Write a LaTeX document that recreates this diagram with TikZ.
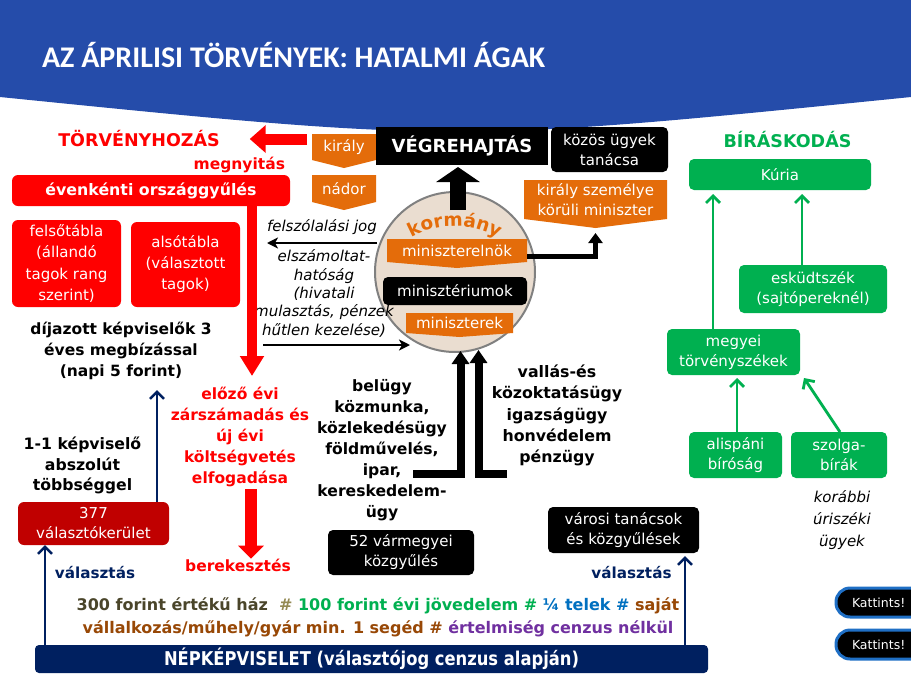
\documentclass[tikz,border=0pt]{standalone}
\usepackage{fontspec}
\setmainfont{DejaVu Sans}
\newfontfamily\condf{DejaVu Sans}[FakeStretch=0.86]
\newfontfamily\titlef{Carlito}
\usetikzlibrary{arrows.meta,decorations.text}
\pgfdeclarelayer{bg}
\pgfdeclarelayer{base}
\pgfsetlayers{base,bg,main}
\newcommand\fsz[2]{\fontsize{#1}{#2}\selectfont}
\newcommand\tagfill[2]{\fill[orng] (#1.north west) -- (#1.north east) -- (#1.south east) -- ([yshift=-#2pt]#1.south) -- (#1.south west) -- cycle;}
\definecolor{hblue}{RGB}{37,76,170}
\definecolor{tred}{RGB}{255,0,0}
\definecolor{tdred}{RGB}{192,0,0}
\definecolor{orng}{RGB}{228,108,10}
\definecolor{tgreen}{RGB}{0,176,80}
\definecolor{tnavy}{RGB}{0,32,96}
\definecolor{tbeige}{RGB}{234,221,208}
\definecolor{tgray}{RGB}{128,128,128}
\definecolor{tbtn}{RGB}{31,111,197}
\definecolor{cA}{RGB}{74,69,42}
\definecolor{cB}{RGB}{148,138,84}
\definecolor{cblue}{RGB}{0,112,192}
\definecolor{cbrown}{RGB}{152,72,6}
\definecolor{cpurp}{RGB}{112,48,160}
\begin{document}
\begin{tikzpicture}[x=1pt,y=-1pt,
  every node/.style={inner sep=0pt,outer sep=0pt,align=center,font=\fsz{15}{20}},
  rbox/.style={fill=tred,rounded corners=6pt,text=white},
  gbox/.style={fill=tgreen,rounded corners=5pt,text=white},
  kbox/.style={fill=black,rounded corners=5pt,text=white},
  btnbox/.style={fill=black,draw=tbtn,line width=3pt,rounded corners=14pt,text=white,anchor=west,inner xsep=16pt,font=\fsz{12.5}{14}},
  redbig/.style={tred,line width=11pt,-{Triangle[width=27pt,length=16pt]}},
  redvert/.style={tred,line width=9.5pt,-{Triangle[width=23pt,length=20pt]}},
  reddown/.style={tred,line width=12pt,-{Triangle[width=25pt,length=13pt]}},
  blkbig/.style={black,line width=16pt,-{Triangle[width=43pt,length=15pt]}},
  blkmed/.style={black,line width=5pt,-{Triangle[width=14pt,length=10pt]}},
  blkL/.style={black,line width=8pt,-{Triangle[width=17pt,length=13pt]}},
  blkthin/.style={black,line width=2.5pt,-{Stealth[length=11pt,width=11pt,inset=3pt]}},
  navyarr/.style={tnavy,line width=2.5pt,-{Straight Barb[length=7pt,width=14pt]}},
  grnarr/.style={tgreen,line width=2.8pt,-{Straight Barb[length=7pt,width=14pt]}}
]
\useasboundingbox (0,0) rectangle (911,683);
\clip (0,0) rectangle (911,683);
\begin{pgfonlayer}{base}
\fill[white] (0,0) rectangle (911,683);
\fill[hblue] (0,0) -- (911,0) -- (911,97) .. controls (455.5,143) .. (0,97) -- cycle;
\end{pgfonlayer}
\node[anchor=base west,text=white,font=\titlef\fsz{30}{30}\bfseries] (title) at (42,67) {AZ ÁPRILISI TÖRVÉNYEK: HATALMI ÁGAK};

% legislation
\node[font=\fsz{17.5}{20}\bfseries,text=tred] (tv) at (139,139) {TÖRVÉNYHOZÁS};
\node[font=\fsz{15.5}{20}\bfseries,text=tred,anchor=east] (megny) at (285,165) {megnyitás};
\node[rbox,minimum width=278,minimum height=31,font=\fsz{15.8}{20}\bfseries] (orszag) at (151,190.5) {évenkénti országgyűlés};
\node[rbox,minimum width=109,minimum height=87,font=\fsz{15}{21.3}] (felso) at (66.5,263.5) {felsőtábla\\(állandó\\tagok rang\\szerint)};
\node[rbox,minimum width=109,minimum height=85,font=\fsz{15}{21}] (also) at (185.5,264.5) {alsótábla\\(választott\\tagok)};
\node[font=\fsz{15.5}{21}\bfseries] (dij) at (121,351) {díjazott képviselők 3\\éves megbízással\\(napi 5 forint)};
\node[font=\fsz{15.7}{20.5}\bfseries] (egy) at (82.5,465.5) {1-1 képviselő\\abszolút\\többséggel};
\node[fill=tdred,rounded corners=6pt,text=white,minimum width=151,minimum height=43,font=\fsz{15}{20}] (ker) at (93.5,523.5) {377\\választókerület};
\node[font=\fsz{15.2}{20}\bfseries,text=tnavy] (val1) at (95,573) {választás};
\node[font=\fsz{15.5}{20.8}\bfseries,text=tred] (elozo) at (240,437) {előző évi\\zárszámadás és\\új évi\\költségvetés\\elfogadása};
\node[font=\fsz{15.5}{20}\bfseries,text=tred] (berek) at (238,565) {berekesztés};

% executive
\node[text=white,minimum width=64,minimum height=26] (kiraly) at (344,147) {király};
\node[text=white,minimum width=64,minimum height=27] (nador) at (344,188.5) {nádor};
\node[fill=black,text=white,minimum width=172,minimum height=38,font=\fsz{18}{20}\bfseries] (vegre) at (462,146) {VÉGREHAJTÁS};
\node[kbox,minimum width=117,minimum height=45] (kozos) at (609.5,149.5) {közös ügyek\\tanácsa};
\node[text=white,minimum width=143,minimum height=39] (kszem) at (595.5,199.5) {király személye\\körüli miniszter};
\node[text=white,minimum width=140,minimum height=23] (melnok) at (457,250.5) {miniszterelnök};
\node[kbox,minimum width=144,minimum height=28] (mium) at (455,291) {minisztériumok};
\node[text=white,minimum width=107,minimum height=20] (mek) at (459.5,323) {miniszterek};
\node[font=\fsz{15}{18.5}\itshape] (felsz) at (322,227) {felszólalási jog};
\node[font=\fsz{15}{18.3}\itshape] (elsz) at (324,293.5) {elszámoltat-\\hatóság\\(hivatali\\mulasztás, pénzek\\hűtlen kezelése)};
\node[font=\fsz{15.6}{21}\bfseries] (belugy) at (382,450) {belügy\\közmunka,\\közlekedésügy\\földművelés,\\ipar,\\kereskedelem-\\ügy};
\node[font=\fsz{15.8}{21.2}\bfseries] (vallas) at (557,415.5) {vallás-és\\közoktatásügy\\igazságügy\\honvédelem\\pénzügy};
\node[kbox,minimum width=146,minimum height=45] (varm) at (401,552.5) {52 vármegyei\\közgyűlés};
\node[kbox,minimum width=151,minimum height=46] (varos) at (623.5,530) {városi tanácsok\\és közgyűlések};
\node[font=\fsz{15.2}{20}\bfseries,text=tnavy] (val2) at (631.5,573) {választás};

% judiciary
\node[font=\fsz{17.5}{20}\bfseries,text=tgreen] (bir) at (787.5,140) {BÍRÁSKODÁS};
\node[gbox,minimum width=182,minimum height=31] (kuria) at (780,174.5) {Kúria};
\node[gbox,minimum width=148,minimum height=48] (esk) at (813,289) {esküdtszék\\(sajtópereknél)};
\node[gbox,minimum width=133,minimum height=46] (megy) at (733.5,352) {megyei\\törvényszékek};
\node[gbox,minimum width=93,minimum height=46] (alisp) at (735.5,455) {alispáni\\bíróság};
\node[gbox,minimum width=96,minimum height=46] (szolga) at (839,455) {szolga-\\bírák};
\node[font=\fsz{15}{22}\itshape] (kor) at (842,520) {korábbi\\úriszéki\\ügyek};

% bottom
\node[font=\fsz{16}{23}\bfseries] (cenz) at (378,617.5) {\textcolor{cA}{300 forint értékű ház}\ \ \textcolor{cB}{\#} \textcolor{tgreen}{100 forint évi jövedelem \#} \textcolor{cblue}{¼ telek \#} \textcolor{cbrown}{saját}\\\textcolor{cbrown}{vállalkozás/műhely/gyár min. 1 segéd \#} \textcolor{cpurp}{értelmiség cenzus nélkül}};
\node[fill=tnavy,rounded corners=4pt,text=white,minimum width=673,minimum height=28,font=\condf\fsz{19}{20}\bfseries] (nep) at (371.5,659) {NÉPKÉPVISELET (választójog cenzus alapján)};
\node[btnbox,minimum height=29] (b1) at (836,602.5) {Kattints!\hspace*{30pt}};
\node[btnbox,minimum height=29] (b2) at (836,644.5) {Kattints!\hspace*{30pt}};

% background shapes
\begin{pgfonlayer}{bg}
\node[circle,minimum size=160,fill=tbeige,draw=tgray,line width=2pt] (circ) at (455,272) {};
\tagfill{kiraly}{8}
\tagfill{nador}{8}
\tagfill{kszem}{9}
\tagfill{melnok}{6}
\tagfill{mek}{4}
\end{pgfonlayer}

\path[decorate,decoration={text along path,text={|\fsz{18.5}{18.5}\bfseries|kormány},text align=center,text color=orng}]
  ([shift={(-122:88)}]455,314) arc[start angle=-122,end angle=-58,radius=88];

% connectors
\draw[redbig,shorten <=5pt,shorten >=30pt] (kiraly.west |- tv.east) -- (tv.east);
\coordinate (xr) at (252,0);
\coordinate (rtip) at (252,376);
\draw[redvert] (xr |- orszag.south) -- (rtip);
\coordinate (xr2) at (251,0);
\draw[reddown,shorten <=3pt] (xr2 |- elozo.south) -- (xr2 |- berek.north);

\coordinate (f1) at (377,243);
\coordinate (f2) at (267,243);
\draw[blkthin] (f1) -- (f2);
\coordinate (e1) at (263,345);
\coordinate (e2) at (410,345);
\draw[blkthin] (e1) -- (e2);

\draw[blkbig,shorten >=2pt] ([xshift=3pt,yshift=-18pt]circ.north) -- ([xshift=-4pt]vegre.south);
\draw[blkmed,shorten >=5pt] ([yshift=-5.5pt]melnok.east) -| ([yshift=-9pt]kszem.south);

\coordinate (L1) at (413,473.5);
\coordinate (L2) at (507,473.5);
\coordinate (c1) at (460.5,351);
\coordinate (c2) at (478.5,350);
\draw[blkL] (L1) -| (c1);
\draw[blkL] (L2) -| (c2);

\coordinate (nx1) at (157,390);
\draw[navyarr] (nx1 |- ker.north) -- (nx1);
\coordinate (nx2) at (45,0);
\draw[navyarr] (nx2 |- nep.north) -- (nx2 |- ker.south);
\coordinate (nx3) at (685,0);
\draw[navyarr,shorten >=3pt] (nx3 |- nep.north) -- (nx3 |- varos.south);

\coordinate (gx1) at (713,0);
\draw[grnarr,shorten >=4pt] (gx1 |- megy.north) -- (gx1 |- kuria.south);
\coordinate (gx2) at (802,0);
\draw[grnarr,shorten >=4pt] (gx2 |- esk.north) -- (gx2 |- kuria.south);
\coordinate (gx3) at (737,0);
\draw[grnarr,shorten >=3pt] (gx3 |- alisp.north) -- (gx3 |- megy.south);
\draw[grnarr] ([xshift=1pt]szolga.north) -- ([xshift=4pt,yshift=-3pt]megy.south east);
\end{tikzpicture}
\end{document}
